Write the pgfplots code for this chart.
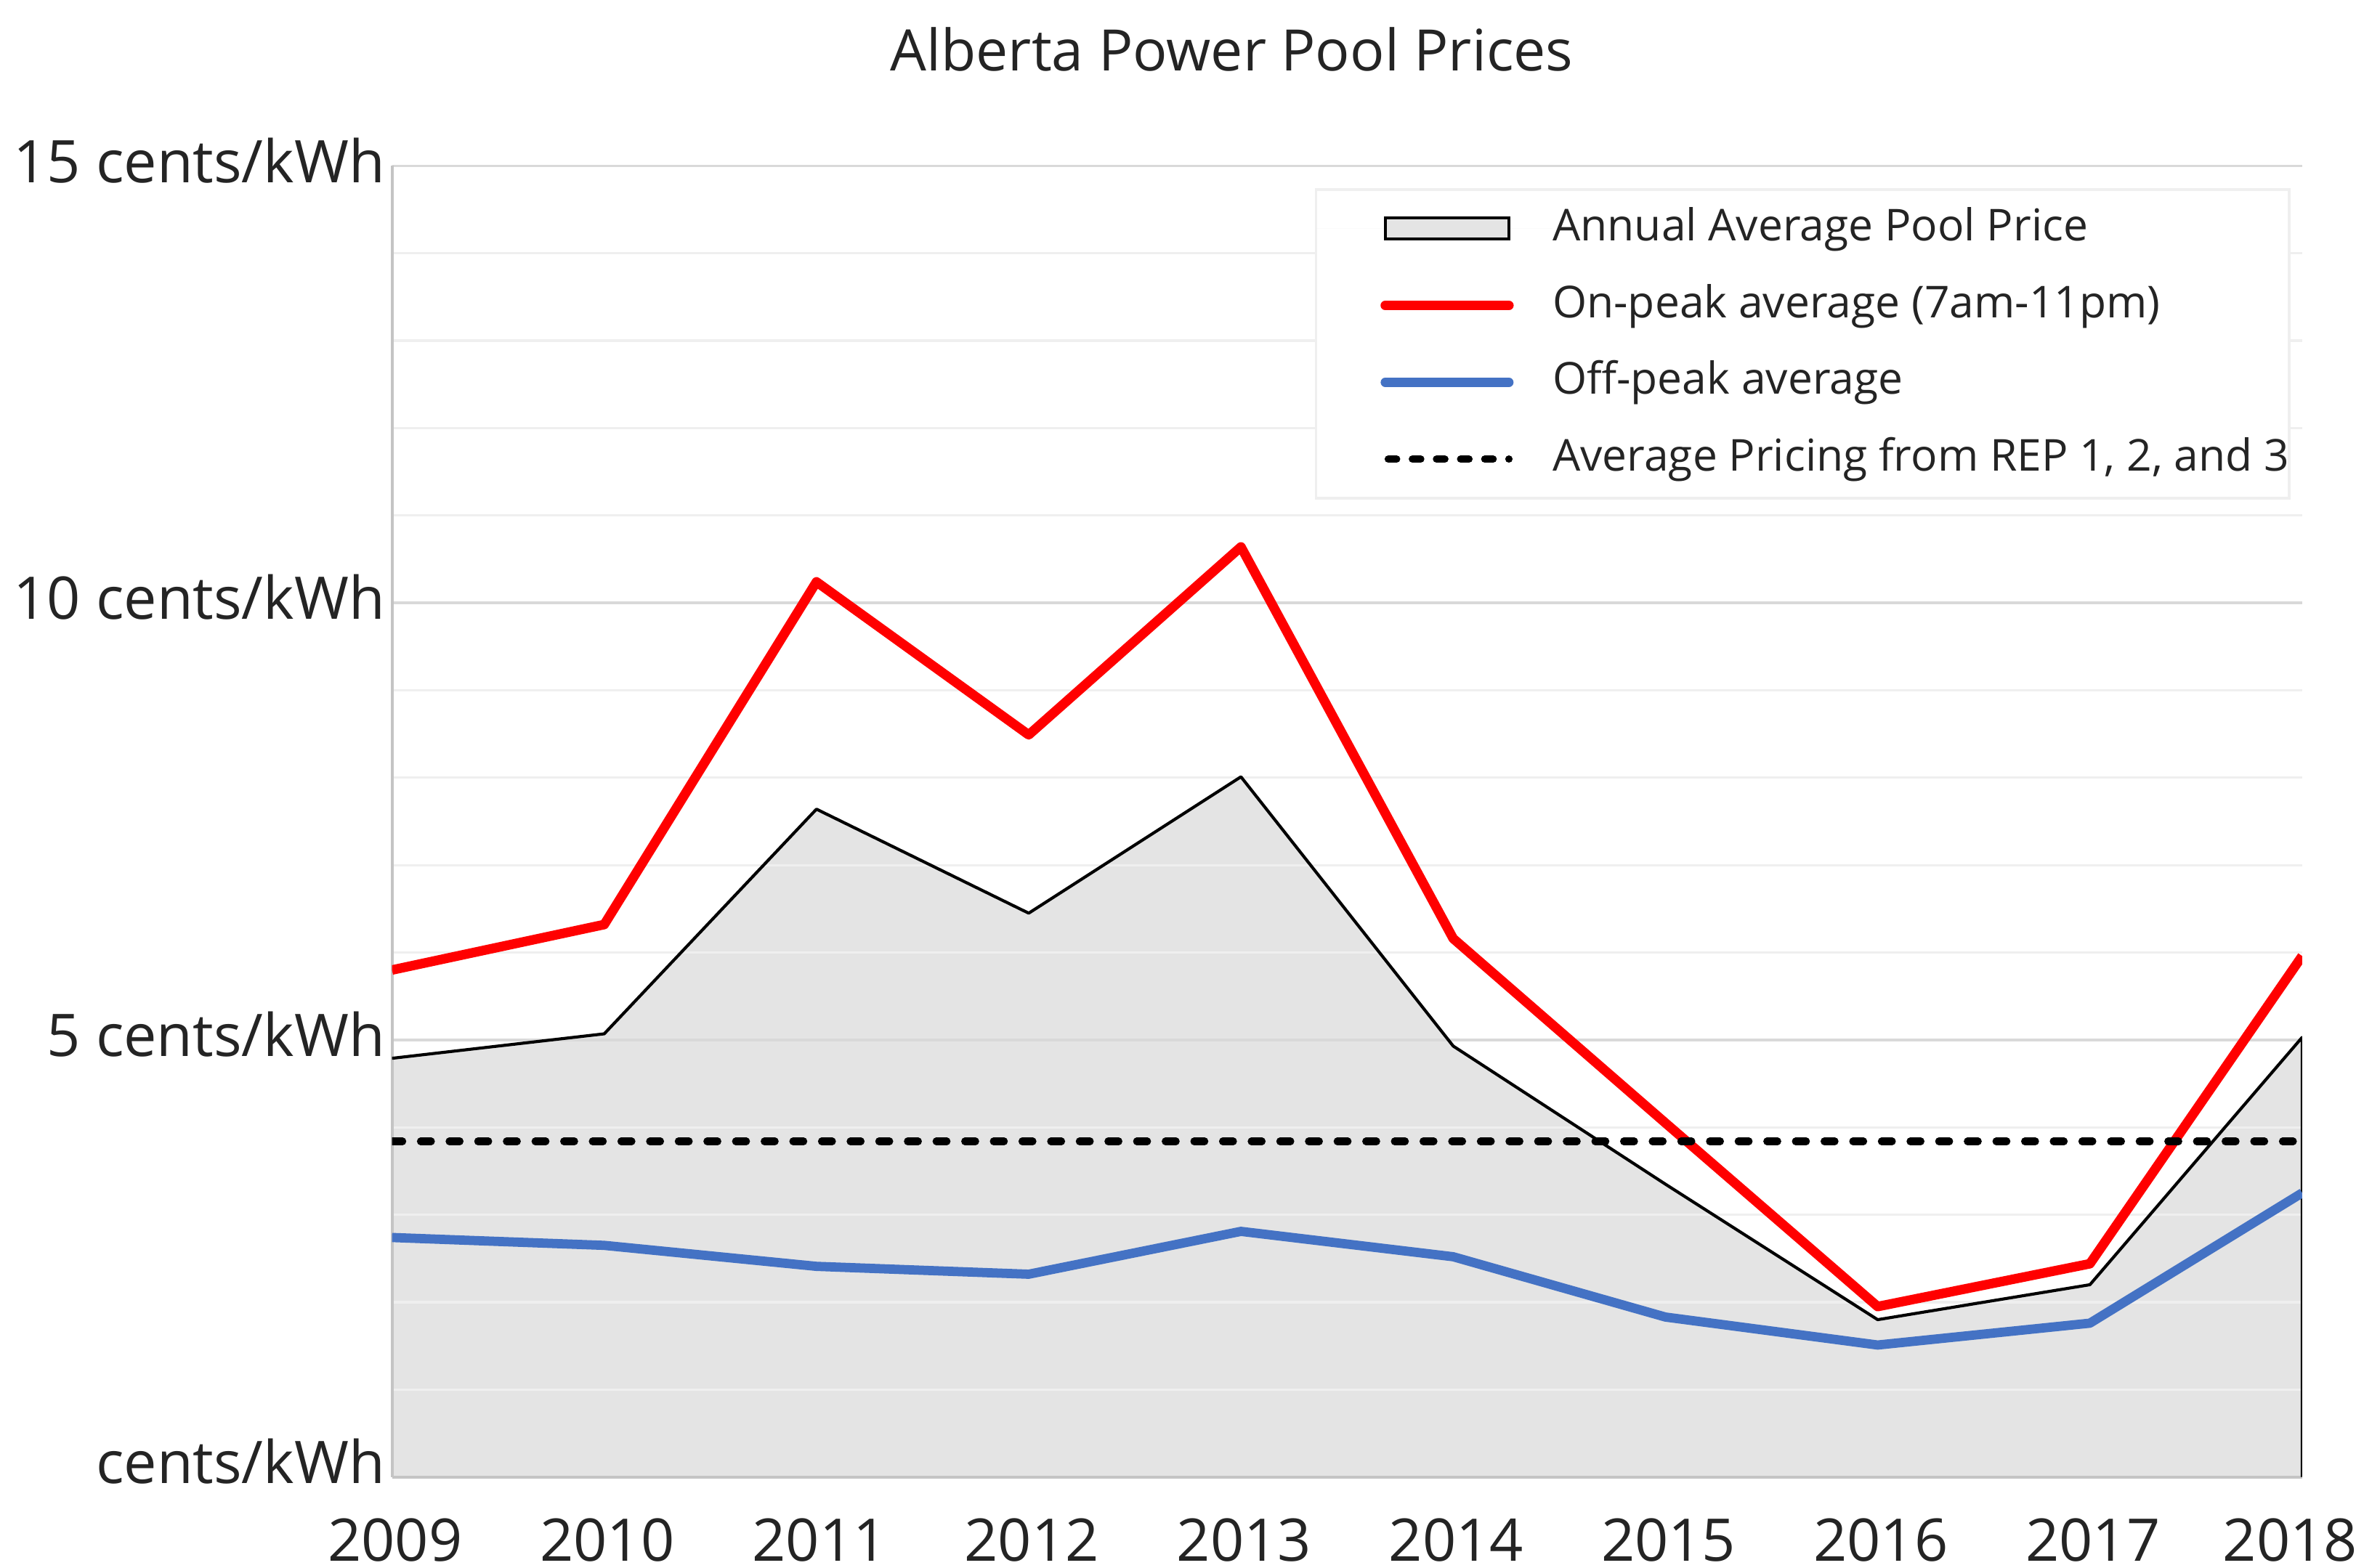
\documentclass[border=0pt]{standalone}
\usepackage{pgfplots}
\pgfplotsset{compat=1.18}
\usepackage{fontspec}
\setmainfont{Open Sans}
\definecolor{txt}{HTML}{242424}
\definecolor{redl}{HTML}{FF0000}
\definecolor{bluel}{HTML}{4472C4}
\definecolor{areaf}{HTML}{E4E4E4}
\definecolor{gmaj}{HTML}{D9D9D9}
\definecolor{gmin}{HTML}{EFEFEF}
\definecolor{axl}{HTML}{C4C4C4}
\begin{document}
\begin{tikzpicture}
\begin{axis}[
  set layers,
  at={(0,0)}, anchor=south west,
  scale only axis, width=126.7mm, height=87mm,
  xmin=2009, xmax=2018, ymin=0, ymax=15,
  xtick={2009,2010,2011,2012,2013,2014,2015,2016,2017,2018},
  xticklabels={2009,2010,2011,2012,2013,2014,2015,2016,2017,\hspace{-2mm}2018},
  ytick={0,5,10,15},
  yticklabels={\raisebox{0.7mm}{cents/kWh},5 cents/kWh,10 cents/kWh,15 cents/kWh},
  minor ytick={1,2,3,4,6,7,8,9,11,12,13,14},
  ymajorgrids, yminorgrids,
  major grid style={gmaj, line width=0.45pt},
  minor grid style={gmin, line width=0.45pt},
  major tick length=0pt, minor tick length=0pt,
  axis x line*=bottom, axis y line*=left,
  axis line style={axl, line width=0.55pt, -},
  /pgf/number format/assume math mode=true,
  tick label style={font=\fontsize{11.1}{13}\selectfont, text=txt},
  xticklabel style={anchor=base, yshift=-5.6mm, xshift=0.2mm},
  yticklabel style={anchor=base east, inner sep=0pt, xshift=-0.4mm, yshift=-1.1mm},
  legend cell align=left,
  legend style={at={(axis description cs:0.483,0.983)}, anchor=north west,
    draw=gmin, line width=0.5pt, fill=white, inner xsep=0mm, inner ysep=1.2mm,
    row sep=2.3mm,
    nodes={inner sep=0pt, text height=2.2mm, text depth=0.6mm, font=\fontsize{8.3}{10}\selectfont, text=txt}},
]
\addplot[fill=areaf, draw=none, on layer=axis background,
  legend image code/.code={\path[draw=none] (-4.6mm,0) -- (11.1mm,0); \draw[black, line width=0.57pt, fill=areaf] (0mm,-0.7mm) rectangle (8.2mm,0.7mm);}]
  coordinates {(2009,4.79) (2010,5.07) (2011,7.64) (2012,6.45) (2013,8.01) (2014,4.93) (2015,3.35) (2016,1.80) (2017,2.20) (2018,5.03)} \closedcycle;
\addlegendentry{Annual Average Pool Price}
\addplot[black, line width=0.57pt, line join=round, forget plot]
  coordinates {(2009,4.79) (2010,5.07) (2011,7.64) (2012,6.45) (2013,8.01) (2014,4.93) (2015,3.35) (2016,1.80) (2017,2.20) (2018,5.03) (2018,0)};
\addplot[redl, line width=1.8pt, line join=round,
  legend image code/.code={\path[draw=none] (-4.6mm,0) -- (11.1mm,0); \draw[redl, line width=1.8pt, line cap=round] (0mm,0mm) -- (8.2mm,0mm);}]
  coordinates {(2009,5.80) (2010,6.32) (2011,10.24) (2012,8.49) (2013,10.64) (2014,6.16) (2015,4.05) (2016,1.95) (2017,2.44) (2018,5.96)};
\addlegendentry{On-peak average (7am-11pm)}
\addplot[bluel, line width=1.75pt, line join=round,
  legend image code/.code={\path[draw=none] (-4.6mm,0) -- (11.1mm,0); \draw[bluel, line width=1.75pt, line cap=round] (0mm,0mm) -- (8.2mm,0mm);}]
  coordinates {(2009,2.74) (2010,2.65) (2011,2.41) (2012,2.32) (2013,2.81) (2014,2.52) (2015,1.83) (2016,1.51) (2017,1.76) (2018,3.25)};
\addlegendentry{Off-peak average}
\addplot[black, line width=1.4pt, line cap=round, dash pattern=on 0.7mm off 1.2mm,
  legend image code/.code={\path[draw=none] (-4.6mm,0) -- (11.1mm,0); \draw[black, line width=1.4pt, line cap=round, dash pattern=on 0.55mm off 1.05mm] (0.2mm,0mm) -- (8.2mm,0mm);}]
  coordinates {(2009,3.84) (2018,3.84)};
\addlegendentry{Average Pricing from REP 1, 2, and 3}
\end{axis}
\node[anchor=base, font=\fontsize{10.8}{12}\selectfont, text=txt, inner sep=0pt] at (55.7mm,93.3mm) {Alberta Power Pool Prices};
\pgfresetboundingbox
\path[use as bounding box] (-26mm,-6mm) rectangle (130.8mm,98mm);
\end{tikzpicture}
\end{document}
